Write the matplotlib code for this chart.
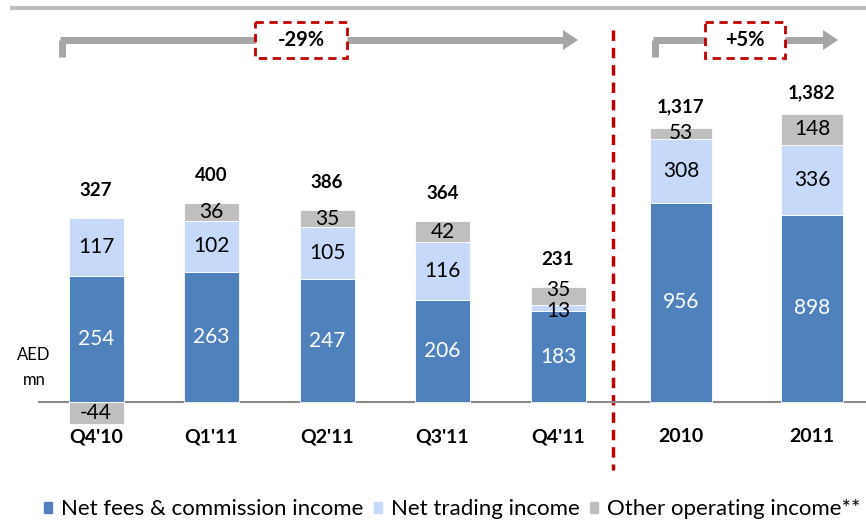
import matplotlib
matplotlib.use("Agg")
import matplotlib.pyplot as plt
import matplotlib.patches as mpatches
import numpy as np

plt.rcParams['font.family'] = ['Lato', 'DejaVu Sans']

# ---------------- data ----------------
q_labels = ["Q4'10", "Q1'11", "Q2'11", "Q3'11", "Q4'11"]
q_fees = [254, 263, 247, 206, 183]
q_trading = [117, 102, 105, 116, 13]
q_other = [-44, 36, 35, 42, 35]
q_totals = ["327", "400", "386", "364", "231"]

y_labels = ["2010", "2011"]
y_fees = [956, 898]
y_trading = [308, 336]
y_other = [53, 148]
y_totals = ["1,317", "1,382"]

series_names = ["Net fees & commission income", "Net trading income", "Other operating income**"]
C_BLUE = "#4F81BD"
C_LIGHT = "#C6D9F8"
C_GRAY = "#BFBFBF"

W, H = 866, 528
fig = plt.figure(figsize=(W / 100, H / 100), dpi=100)
fig.patch.set_facecolor("white")

# overlay axes in pixel coordinates for decorations
ov = fig.add_axes([0, 0, 1, 1], zorder=0)
ov.set_xlim(0, W)
ov.set_ylim(H, 0)
ov.axis("off")

base_px = 126  # baseline from bottom
ax_bot, ax_top = 60, 470


def make_axes(x0, x1, xlim, k):
    ax = fig.add_axes([x0 / W, ax_bot / H, (x1 - x0) / W, (ax_top - ax_bot) / H], zorder=2)
    ax.patch.set_alpha(0)
    ax.set_xlim(*xlim)
    ax.set_ylim((ax_bot - base_px) / k, (ax_top - base_px) / k)
    ax.axis("off")
    ax.axhline(0, color="#8C8C8C", lw=1.5, zorder=1)
    return ax


def draw_group(ax, labels, fees, trading, other, totals, width, tot_off, small_fix=False):
    x = np.arange(len(labels))
    fees = np.array(fees, float)
    trading = np.array(trading, float)
    other = np.array(other, float)
    ax.bar(x, fees, width, color=C_BLUE, edgecolor="white", linewidth=0.6, zorder=3)
    ax.bar(x, trading, width, bottom=fees, color=C_LIGHT, edgecolor="white", linewidth=0.6, zorder=3)
    ob = np.where(other >= 0, fees + trading, 0)
    ax.bar(x, other, width, bottom=ob, color=C_GRAY, edgecolor="white", linewidth=0.6, zorder=3)
    for i in range(len(x)):
        ax.text(x[i], fees[i] / 2, f"{int(fees[i])}", ha="center", va="center",
                color="white", fontsize=15, zorder=4)
        ty = fees[i] + trading[i] / 2
        oy = ob[i] + other[i] / 2
        if small_fix and trading[i] < 20:
            ty = fees[i] + trading[i] / 2 - 6
            oy = ob[i] + other[i] / 2 + 12
        ax.text(x[i], ty, f"{int(trading[i])}", ha="center", va="center",
                color="black", fontsize=15, zorder=4)
        ax.text(x[i], oy, f"{int(other[i])}", ha="center", va="center",
                color="black", fontsize=15, zorder=4)
        top = fees[i] + trading[i] + max(other[i], 0)
        ax.annotate(totals[i], (x[i], top), xytext=(0, tot_off), textcoords="offset points",
                    ha="center", va="bottom", fontsize=13.5, fontweight="bold", zorder=4)
        ax.annotate(labels[i], (x[i], 0), xytext=(0, -25), textcoords="offset points",
                    ha="center", va="center", fontsize=14, fontweight="bold", zorder=4)


# left (quarterly) axes: centers at 96 + 115.5*i px, scale 0.496 px/unit
axL = make_axes(38, 613, (-(96 - 38) / 115.5, -(96 - 38) / 115.5 + 575 / 115.5), 0.496)
draw_group(axL, q_labels, q_fees, q_trading, q_other, q_totals, 55 / 115.5, 14, small_fix=True)

# right (annual) axes: centers at 681 + 131*i px, scale 0.2084 px/unit
axR = make_axes(613, 866, (-(681 - 613) / 131, -(681 - 613) / 131 + 253 / 131), 0.2084)
draw_group(axR, y_labels, y_fees, y_trading, y_other, y_totals, 62 / 131, 9)

# AED mn label
ov.text(34, 355, "AED", ha="center", va="center", fontsize=12)
ov.text(34, 380, "mn", ha="center", va="center", fontsize=12)

# top grey rule
ov.plot([10, 866], [8, 8], color="#BFBFBF", lw=3, solid_capstyle="butt")

# red dashed divider
ov.plot([613, 613], [30, 470], color="#C00000", lw=2.5, ls=(0, (3, 2)))

# growth arrows
arrow_col = "#A6A6A6"
for (xs, xe, label, bx0, bx1) in [(62, 578, "-29%", 255, 347), (655, 838, "+5%", 705, 785)]:
    ov.plot([xs, xs], [57, 40], color=arrow_col, lw=5, solid_capstyle="butt")
    ov.plot([xs - 2.5, xe - 14], [40, 40], color=arrow_col, lw=5, solid_capstyle="butt")
    ov.add_patch(mpatches.Polygon([[xe - 15, 30], [xe, 40], [xe - 15, 50]], closed=True,
                                  facecolor=arrow_col, edgecolor="none"))
    ov.add_patch(mpatches.Rectangle((bx0, 22), bx1 - bx0, 36, facecolor="white",
                                    edgecolor="#C00000", lw=2, ls=(0, (3, 2)), zorder=3))
    ov.text((bx0 + bx1) / 2, 40, label, ha="center", va="center", fontsize=14.5,
            fontweight="bold", zorder=4)

# legend
handles = [mpatches.Patch(color=c) for c in (C_BLUE, C_LIGHT, C_GRAY)]
fig.legend(handles, series_names, loc="center left", bbox_to_anchor=(44 / W, 1 - 509 / H),
           ncol=3, frameon=False, fontsize=16, handlelength=0.38, handleheight=0.38,
           handletextpad=0.4, columnspacing=0.45, borderaxespad=0, borderpad=0)

fig.savefig("out.png", dpi=100, facecolor="white")
